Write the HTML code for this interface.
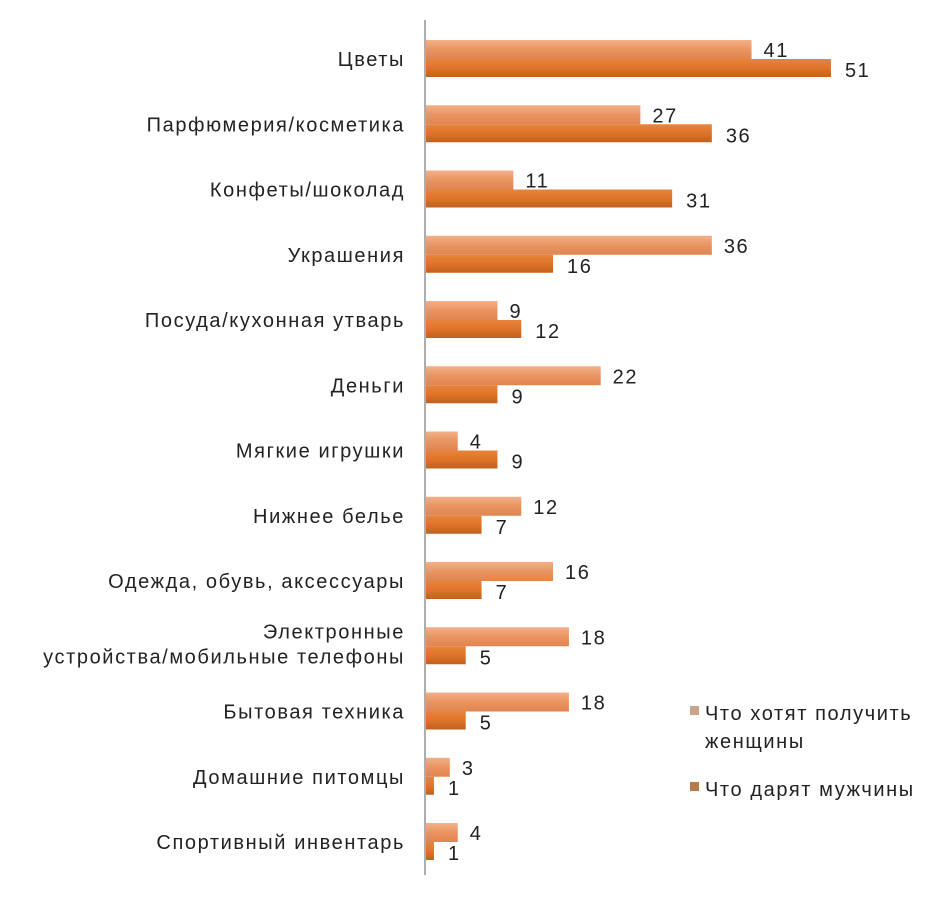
<!DOCTYPE html>
<html><head><meta charset="utf-8"><style>
body{margin:0;background:#fff;}
svg text{font-family:"Liberation Sans","DejaVu Sans",sans-serif;fill:#222;font-size:20px;letter-spacing:1.6px;}
</style></head><body>
<svg id="chart" width="948" height="902" xmlns="http://www.w3.org/2000/svg">
<defs>
<linearGradient id="gl" x1="0" y1="0" x2="0" y2="1"><stop offset="0" stop-color="#f3b08a"/><stop offset="0.5" stop-color="#ea9460"/><stop offset="1" stop-color="#e08550"/></linearGradient>
<linearGradient id="gd" x1="0" y1="0" x2="0" y2="1"><stop offset="0" stop-color="#e8843c"/><stop offset="0.5" stop-color="#de7428"/><stop offset="1" stop-color="#c2601c"/></linearGradient>
</defs>
<g id="bars"></g>
<line x1="425" y1="20" x2="425" y2="875" stroke="#777" stroke-width="1.2"/>
<g>
<rect x="690" y="706" width="9" height="9" fill="#c9a58e"/>
<text x="705" y="720">Что хотят получить</text>
<text x="705" y="748">женщины</text>
<rect x="690" y="782" width="9" height="9" fill="#b87a4a"/>
<text x="705" y="796">Что дарят мужчины</text>
</g>
</svg>
<script>
const categories=[["Цветы"],["Парфюмерия/косметика"],["Конфеты/шоколад"],["Украшения"],["Посуда/кухонная утварь"],["Деньги"],["Мягкие игрушки"],["Нижнее белье"],["Одежда, обувь, аксессуары"],["Электронные","устройства/мобильные телефоны"],["Бытовая техника"],["Домашние питомцы"],["Спортивный инвентарь"]];
const women=[41,27,11,36,9,22,4,12,16,18,18,3,4];
const men=[51,36,31,16,12,9,9,7,7,5,5,1,1];
const x0=426, kx=7.94, y0=59, step=65.25;
const xs=v=>x0+v*kx, yc=i=>y0+i*step;
const g=document.getElementById('bars');
const NS='http://www.w3.org/2000/svg';
function mk(t,a){const e=document.createElementNS(NS,t);for(const k in a)e.setAttribute(k,a[k]);g.appendChild(e);return e;}
categories.forEach((c,i)=>{
  const y=yc(i);
  const r1=mk('rect',{x:x0,y:y-19,width:women[i]*kx,height:19,fill:'url(#gl)'});
  
  
  const r2=mk('rect',{x:x0,y:y,width:men[i]*kx,height:18,fill:'url(#gd)'});
  
  
  const t1=mk('text',{x:xs(women[i])+12,y:y-2});
  t1.textContent=women[i];
  
  
  const t2=mk('text',{x:xs(men[i])+14,y:y+18});
  t2.textContent=men[i];
  
  
  c.forEach((s,j)=>{
    const ty=c.length===1?y+7:y-8+j*25;
    const l=mk('text',{x:405,y:ty,'text-anchor':'end'});
    l.textContent=s;
    
    
  });
});
</script>
</body></html>
